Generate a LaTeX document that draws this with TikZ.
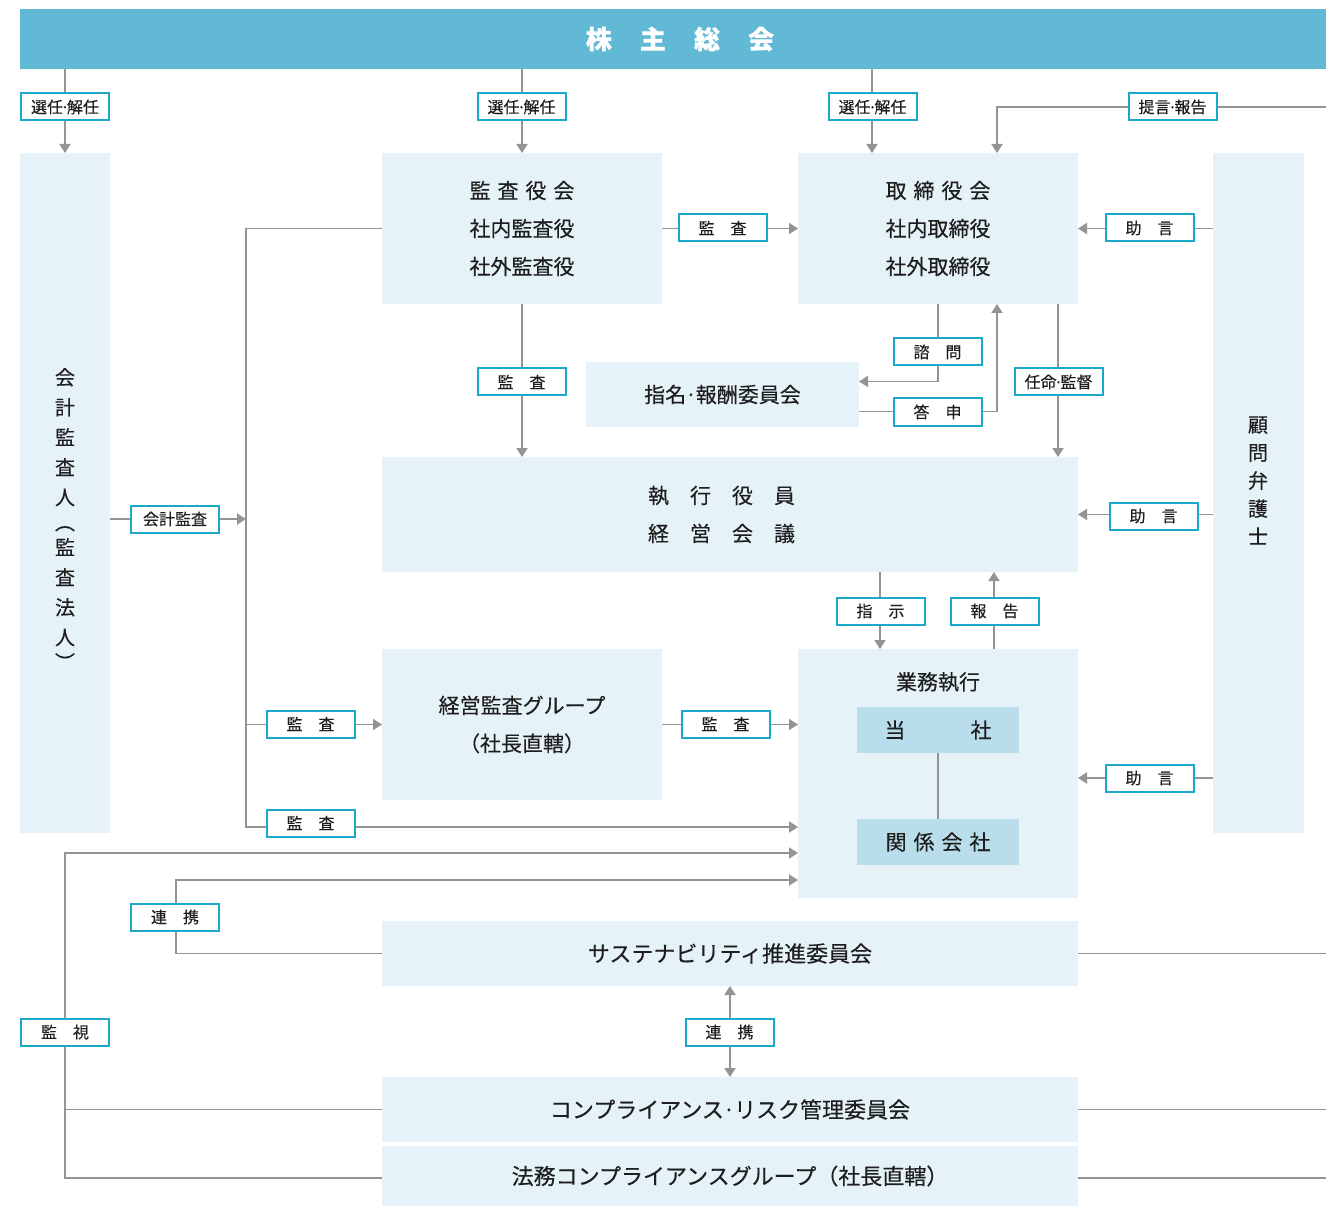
\documentclass[tikz,border=0pt]{standalone}
\usepackage{fontspec}
\setmainfont{Noto Sans CJK JP}[FakeBold=0.25]
\usetikzlibrary{arrows.meta,calc}
\definecolor{barc}{HTML}{62B9D5}
\definecolor{boxc}{HTML}{E5F2F8}
\definecolor{innerc}{HTML}{B9DDEA}
\definecolor{linec}{HTML}{949494}
\definecolor{lblc}{HTML}{1BA9C9}
\definecolor{txtc}{HTML}{1E1E1E}
\newcommand\lbldot{\kern-0.16em·\kern-0.16em}
\newcommand\boxdot{\kern-0.05em·\kern-0.05em}
\tikzset{
  box/.style={fill=boxc, inner sep=0pt, outer sep=0pt, text=txtc, align=center, font=\fontsize{21}{38}\selectfont},
  widebox/.style={box, font=\fontsize{22}{22}\selectfont},
  inbox/.style={box, fill=innerc},
  vtext/.style={inner sep=0pt, text=txtc, align=center},
  lbl/.style={draw=lblc, line width=2pt, fill=white, minimum width=88pt, minimum height=27pt, inner sep=0pt, text=txtc, font=\fontsize{16}{16}\selectfont},
  ln/.style={draw=linec, line width=1.8pt},
  arr/.style={ln, -{Triangle[width=11pt,length=9pt]}},
  arrb/.style={ln, {Triangle[width=11pt,length=9pt]}-{Triangle[width=11pt,length=9pt]}},
}
\begin{document}
\begin{tikzpicture}[x=1pt,y=-1pt]
\useasboundingbox (0,0) rectangle (1326,1206);

% ---- boxes ----
\node[fill=barc, minimum width=1306pt, minimum height=60pt, inner sep=0pt, text=white, font=\bfseries\fontsize{26}{26}\selectfont] (soukai) at (673,39) {\hspace*{14pt}株\hspace{1.08em}主\hspace{1.08em}総\hspace{1.08em}会};

\node[box, minimum width=90pt, minimum height=680pt] (kaikei) at (65,493) {};
\node[vtext, font=\fontsize{20}{30}\selectfont] (kaikeiT) at (65,519) {会\\計\\監\\査\\人\\[-5pt]︵\\[-5pt]監\\査\\法\\人\\[-5pt]︶};

\node[box, minimum width=91pt, minimum height=680pt] (komon) at (1258.5,493) {};
\node[vtext, font=\fontsize{20}{28}\selectfont] (komonT) at (1258,480.5) {顧\\問\\弁\\護\\士};

\node[box, minimum width=280pt, minimum height=151pt] (kansa) at (522,228.5) {監\hspace{0.33em}査\hspace{0.33em}役\hspace{0.33em}会\\社内監査役\\社外監査役};
\node[box, minimum width=280pt, minimum height=151pt] (tori) at (938,228.5) {取\hspace{0.33em}締\hspace{0.33em}役\hspace{0.33em}会\\社内取締役\\社外取締役};
\node[box, minimum width=273pt, minimum height=65pt] (shimei) at (722.5,394.5) {指名\boxdot 報酬委員会};
\node[box, minimum width=696pt, minimum height=115pt] (shikkou) at (730,514.5) {執\hspace{1em}行\hspace{1em}役\hspace{1em}員\hspace*{17pt}\\経\hspace{1em}営\hspace{1em}会\hspace{1em}議\hspace*{17pt}};
\node[box, minimum width=280pt, minimum height=151pt] (keiei) at (522,724.5) {経営監査グループ\\（社長直轄）};
\node[box, minimum width=280pt, minimum height=249pt] (gyomu) at (938,773.5) {};
\node[vtext, font=\fontsize{21}{21}\selectfont] (gyomuT) at ($(gyomu.north)+(0,33)$) {業務執行};
\node[inbox, minimum width=162pt, minimum height=46pt] (tousha) at (938,730) {当\hspace{3.1em}社};
\node[inbox, minimum width=162pt, minimum height=46pt] (kankei) at (938,842) {関\hspace{0.33em}係\hspace{0.33em}会\hspace{0.33em}社};
\node[widebox, minimum width=696pt, minimum height=65pt] (sus) at (730,953.5) {サステナビリティ推進委員会};
\node[widebox, minimum width=696pt, minimum height=65pt] (compl) at (730,1109.5) {コンプライアンス\boxdot リスク管理委員会};
\node[widebox, minimum width=696pt, minimum height=60pt] (houmu) at (730,1176) {法務コンプライアンスグループ（社長直轄）};

% ---- connectors ----
\draw[arr] (soukai.south -| kaikei.north) -- (kaikei.north);
\draw[arr] (soukai.south -| kansa.north) -- (kansa.north);
\coordinate (t872) at ($(tori.north west)+(74,0)$);
\draw[arr] (soukai.south -| t872) -- (t872);
\coordinate (t997) at ($(tori.north west)+(199,0)$);
\coordinate (rTop) at (1326,107);
\draw[arr] (rTop) -| (t997);
\draw[arr] (kansa.east) -- (tori.west);
\draw[arr] (komon.west |- tori.east) -- (tori.east);
\draw[arr] (tori.south) |- ($(shimei.east)+(0,-13)$);
\draw[arr] ($(shimei.east)+(0,17)$) -| (t997 |- tori.south);
\coordinate (t1058) at ($(tori.south west)+(260,0)$);
\draw[arr] (t1058) -- (t1058 |- shikkou.north);
\draw[arr] (kansa.south) -- (kansa.south |- shikkou.north);

\coordinate (sp) at ($(kansa.west)+(-136,0)$);
\coordinate (g827) at ($(gyomu.west)+(0,53.5)$);
\draw[arr] (kansa.west) -| (sp |- g827) -- (g827);
\coordinate (k519) at ($(kaikei.east)+(0,26)$);
\draw[arr] (k519) -- (k519 -| sp);
\draw[arr] (sp |- keiei.west) -- (keiei.west);
\draw[arr] (keiei.east) -- (keiei.east -| gyomu.west);

\draw[arr] (komon.west |- shikkou.east) -- (shikkou.east);
\coordinate (g778) at ($(gyomu.east)+(0,4.5)$);
\draw[arr] (g778 -| komon.west) -- (g778);

\coordinate (g880) at ($(gyomu.north west)+(82,0)$);
\draw[arr] (g880 |- shikkou.south) -- (g880);
\coordinate (g994) at ($(gyomu.north west)+(196,0)$);
\draw[arr] (g994) -- (g994 |- shikkou.south);
\draw[ln] (tousha.south) -- (kankei.north);

\coordinate (g853) at ($(gyomu.west)+(0,79.5)$);
\coordinate (h1178) at ($(houmu.west)+(0,2)$);
\draw[arr] (h1178) -| (g853 -| kaikei.center) -- (g853);
\draw[ln] (compl.west) -- (compl.west -| kaikei.center);

\coordinate (g880b) at ($(gyomu.west)+(0,106.5)$);
\draw[arr] (sus.west) -- ++(-206,0) |- (g880b);
\draw[arrb] (sus.south) -- (compl.north);

\coordinate (rEdge) at (1326,0);
\draw[ln] (sus.east) -- (sus.east -| rEdge);
\draw[ln] (compl.east) -- (compl.east -| rEdge);
\draw[ln] (h1178 -| houmu.east) -- (h1178 -| rEdge);

% ---- labels ----
\node[lbl] (l1) at (65,107) {選任\lbldot 解任};
\node[lbl] (l2) at (521.5,107) {選任\lbldot 解任};
\node[lbl] (l3) at (872.5,107) {選任\lbldot 解任};
\node[lbl] (l4) at (1172.5,107) {提言\lbldot 報告};
\node[lbl] (l5) at (722.5,228) {監　査};
\node[lbl] (l6) at (1149.5,228) {助　言};
\node[lbl] (l7) at (937.5,352) {諮　問};
\node[lbl] (l8) at (937.5,412) {答　申};
\node[lbl] (l9) at (1058.5,382) {任命\lbldot 監督};
\node[lbl] (l10) at (521.5,382) {監　査};
\node[lbl] (l11) at (175,519) {会計監査};
\node[lbl] (l12) at (1153.5,516) {助　言};
\node[lbl] (l13) at (880.5,611) {指　示};
\node[lbl] (l14) at (994.5,611) {報　告};
\node[lbl] (l15) at (310.5,724) {監　査};
\node[lbl] (l16) at (725.5,724) {監　査};
\node[lbl] (l17) at (1149.5,778) {助　言};
\node[lbl] (l18) at (310.5,823) {監　査};
\node[lbl] (l19) at (175,917) {連　携};
\node[lbl] (l20) at (65,1032) {監　視};
\node[lbl] (l21) at (729.5,1032) {連　携};
\end{tikzpicture}
\end{document}
